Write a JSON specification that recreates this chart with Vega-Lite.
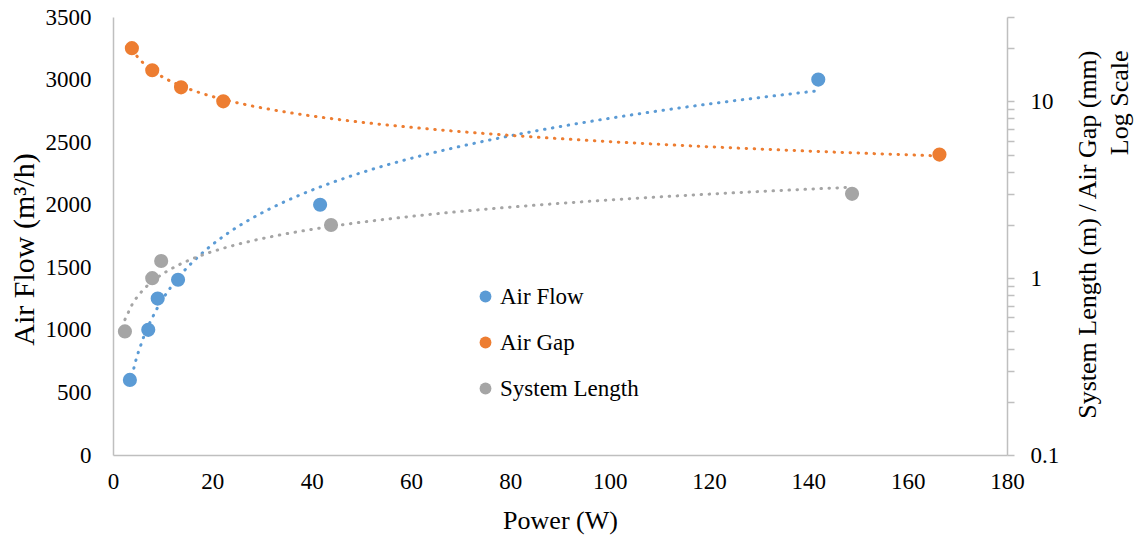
{
  "$schema": "https://vega.github.io/schema/vega-lite/v6.json",
  "width": 894,
  "height": 438,
  "autosize": {"type": "none"},
  "padding": {"left": 113, "top": 17, "right": 128, "bottom": 82},
  "background": "white",
  "config": {
    "font": "Liberation Serif",
    "view": {"stroke": null},
    "axis": {
      "grid": false,
      "labelFont": "Liberation Serif",
      "titleFont": "Liberation Serif",
      "labelFontSize": 23,
      "titleFontSize": 26,
      "labelColor": "#000000",
      "titleColor": "#000000",
      "titleFontWeight": "normal",
      "domainColor": "#bfbfbf",
      "domainWidth": 1.5,
      "tickColor": "#bfbfbf",
      "tickWidth": 1.5,
      "labelFlush": false,
      "labelOverlap": false
    },
    "legend": {
      "orient": "none",
      "legendX": 361,
      "legendY": 268,
      "padding": 0,
      "symbolType": "circle",
      "symbolSize": 140,
      "symbolStrokeWidth": 0,
      "labelFont": "Liberation Serif",
      "labelFontSize": 23,
      "labelColor": "#000000",
      "labelOffset": 3,
      "rowPadding": 22
    }
  },
  "datasets": {
    "measurements": [
      {"series": "Air Flow", "power": 3.4, "value": 600},
      {"series": "Air Flow", "power": 7.1, "value": 1000},
      {"series": "Air Flow", "power": 9.0, "value": 1250},
      {"series": "Air Flow", "power": 13.1, "value": 1400},
      {"series": "Air Flow", "power": 41.7, "value": 2000},
      {"series": "Air Flow", "power": 142, "value": 3000},
      {"series": "Air Gap", "power": 3.8, "value": 20},
      {"series": "Air Gap", "power": 7.9, "value": 15},
      {"series": "Air Gap", "power": 13.7, "value": 12},
      {"series": "Air Gap", "power": 22.2, "value": 10},
      {"series": "Air Gap", "power": 166.4, "value": 5},
      {"series": "System Length", "power": 2.4, "value": 0.5},
      {"series": "System Length", "power": 7.9, "value": 1},
      {"series": "System Length", "power": 9.7, "value": 1.25},
      {"series": "System Length", "power": 43.9, "value": 2},
      {"series": "System Length", "power": 148.8, "value": 3}
    ]
  },
  "data": {"name": "measurements"},
  "encoding": {
    "x": {
      "field": "power",
      "type": "quantitative",
      "scale": {"domain": [0, 180], "nice": false, "zero": false},
      "axis": {
        "values": [0, 20, 40, 60, 80, 100, 120, 140, 160, 180],
        "format": "d",
        "ticks": false,
        "labelFontSize": 23,
        "labelPadding": 15,
        "title": "Power (W)",
        "titleFontSize": 26,
        "titleBaseline": "alphabetic",
        "titleY": 73
      }
    }
  },
  "layer": [
    {
      "transform": [{"filter": "datum.series === 'Air Flow'"}],
      "encoding": {
        "y": {
          "field": "value",
          "type": "quantitative",
          "scale": {"domain": [0, 3500], "nice": false},
          "axis": {
            "orient": "left",
            "values": [0, 500, 1000, 1500, 2000, 2500, 3000, 3500],
            "format": "d",
            "ticks": false,
            "labelFontSize": 23,
            "labelPadding": 22,
            "title": "Air Flow (m³/h)",
            "titleFontSize": 30,
            "titleAngle": -90,
            "titleAlign": "center",
            "titleBaseline": "alphabetic",
            "titleX": -80,
            "titleY": 232
          }
        }
      },
      "layer": [
        {
          "transform": [{"regression": "value", "on": "power", "method": "log"}],
          "mark": {"type": "line", "color": "#5B9BD5", "strokeWidth": 3, "strokeDash": [0.5, 7.5], "strokeCap": "round"}
        },
        {
          "mark": {"type": "circle", "size": 200, "opacity": 1},
          "encoding": {
            "color": {
              "field": "series",
              "type": "nominal",
              "scale": {"domain": ["Air Flow", "Air Gap", "System Length"], "range": ["#5B9BD5", "#ED7D31", "#A5A5A5"]},
              "legend": {"title": null}
            }
          }
        }
      ]
    },
    {
      "transform": [{"filter": "datum.series !== 'Air Flow'"}],
      "encoding": {
        "y": {
          "field": "value",
          "type": "quantitative",
          "scale": {"type": "log", "domain": [0.1, 30], "nice": false},
          "axis": {
            "orient": "right",
            "values": [0.1, 0.2, 0.3, 0.4, 0.5, 0.6, 0.7, 0.8, 0.9, 1, 2, 3, 4, 5, 6, 7, 8, 9, 10, 20, 30],
            "format": "~g",
            "labelExpr": "datum.value == 0.1 || datum.value == 1 || datum.value == 10 ? datum.label : ''",
            "tickSize": 7,
            "labelFontSize": 23,
            "labelPadding": 16,
            "title": ["System Length (m) / Air Gap (mm)", "Log Scale"],
            "titleFontSize": 26,
            "titleAngle": -90,
            "titleAlign": "right",
            "titleBaseline": "alphabetic",
            "titleLineHeight": 32,
            "titleX": 88,
            "titleY": 33
          }
        }
      },
      "layer": [
        {
          "transform": [{"regression": "value", "on": "power", "method": "pow", "groupby": ["series"]}],
          "mark": {"type": "line", "strokeWidth": 3, "strokeDash": [0.5, 7.5], "strokeCap": "round"},
          "encoding": {
            "color": {"field": "series", "type": "nominal", "legend": null}
          }
        },
        {
          "mark": {"type": "circle", "size": 200, "opacity": 1},
          "encoding": {
            "color": {"field": "series", "type": "nominal", "legend": {"title": null}}
          }
        }
      ]
    }
  ],
  "resolve": {"scale": {"y": "independent"}}
}
